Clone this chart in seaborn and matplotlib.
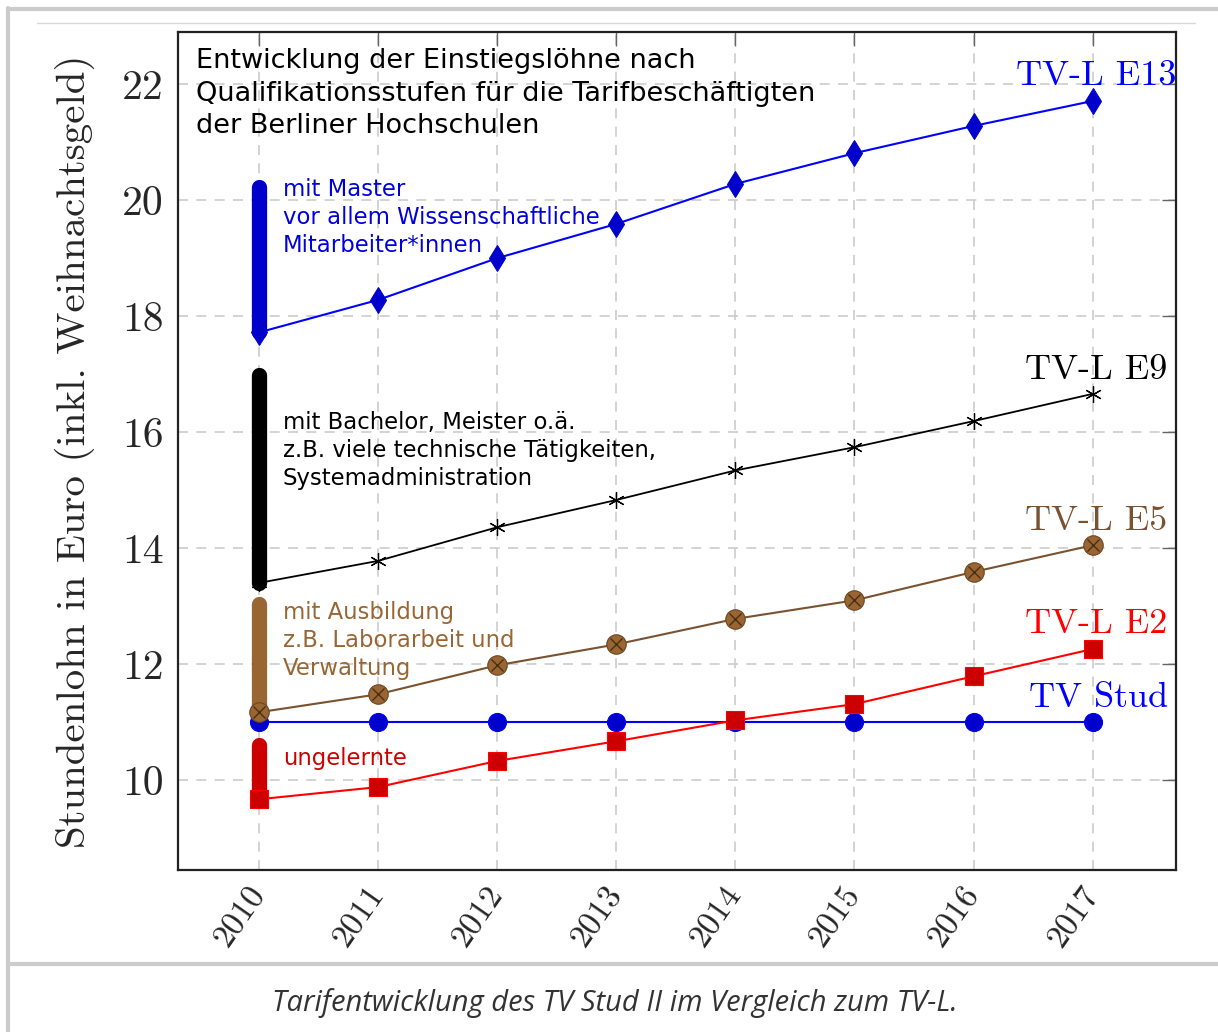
import numpy as np
import pandas as pd
import matplotlib.pyplot as plt
import matplotlib.transforms as mtransforms
import seaborn as sns
from matplotlib.lines import Line2D

# ------------------------------------------------------------
# Daten
# ------------------------------------------------------------
jahre = [2010, 2011, 2012, 2013, 2014, 2015, 2016, 2017]

tvl_e13 = [17.72, 18.28, 19.00, 19.59, 20.28, 20.81, 21.28, 21.71]
tvl_e9 = [13.40, 13.78, 14.36, 14.83, 15.34, 15.74, 16.19, 16.66]
tvl_e5 = [11.17, 11.48, 11.98, 12.34, 12.78, 13.10, 13.59, 14.05]
tvl_e2 = [9.67, 9.88, 10.33, 10.67, 11.03, 11.31, 11.79, 12.26]
tv_stud = [11.00, 11.00, 11.00, 11.00, 11.00, 11.00, 11.00, 11.00]

# Qualifikationsbalken bei 2010 (von, bis)
balken_von = [17.72, 13.40, 11.20, 9.65]
balken_bis = [20.22, 16.98, 13.03, 10.60]
balken_farben = ["#0000cc", "#000000", "#996633", "#cc0000"]

gruppen_texte = [
    "mit Master\nvor allem Wissenschaftliche\nMitarbeiter*innen",
    "mit Bachelor, Meister o.ä.\nz.B. viele technische Tätigkeiten,\nSystemadministration",
    "mit Ausbildung\nz.B. Laborarbeit und\nVerwaltung",
    "ungelernte",
]
gruppen_y = [19.70, 15.69, 12.40, 10.38]
gruppen_farben = ["#0000dd", "#000000", "#996633", "#cc0000"]

reihen_namen = ["TV-L E13", "TV-L E9", "TV-L E5", "TV-L E2", "TV Stud"]
reihen_label_x = [2017.70, 2017.63, 2017.63, 2017.63, 2017.63]
reihen_label_y = [22.13, 17.07, 14.46, 12.69, 11.41]
reihen_label_farben = ["#0000ff", "#000000", "#7a5230", "#ff0000", "#0000ff"]

y_ticks = [10, 12, 14, 16, 18, 20, 22]

# ------------------------------------------------------------
# Figur
# ------------------------------------------------------------
sns.set_theme(style="white")
plt.rcParams["font.family"] = ["DejaVu Sans"]

fig = plt.figure(figsize=(12.18, 10.32), dpi=100)
ax = fig.add_axes([178 / 1218, 1 - 870 / 1032, 998 / 1218, 838 / 1032])

# Grid
for j in jahre:
    ax.axvline(j, color="#cccccc", lw=1.2, ls=(0, (6, 5)), zorder=0)
for t in y_ticks:
    ax.axhline(t, color="#cccccc", lw=1.2, ls=(0, (6, 5)), zorder=0)

# Balken bei 2010
for v, b, c in zip(balken_von, balken_bis, balken_farben):
    ax.plot([2010, 2010], [v, b], color=c, lw=11, solid_capstyle="round", zorder=2)

# Linien
df = pd.DataFrame({"Jahr": jahre, "E13": tvl_e13, "E9": tvl_e9, "E5": tvl_e5,
                   "E2": tvl_e2, "Stud": tv_stud})

sns.lineplot(data=df, x="Jahr", y="Stud", ax=ax, color="#0000ff", lw=1.5,
             marker="o", markersize=13, markerfacecolor="#0000cc",
             markeredgecolor="#0000ff", markeredgewidth=0.8, zorder=3)
sns.lineplot(data=df, x="Jahr", y="E13", ax=ax, color="#0000ff", lw=1.5,
             marker="d", markersize=13, markerfacecolor="#0000cc",
             markeredgecolor="#0000cc", zorder=3)
sns.lineplot(data=df, x="Jahr", y="E9", ax=ax, color="#000000", lw=1.3,
             marker=(6, 2, 0), markersize=12, markeredgecolor="#000000",
             markeredgewidth=0.9, zorder=3)
sns.lineplot(data=df, x="Jahr", y="E5", ax=ax, color="#7a5230", lw=1.5,
             marker="o", markersize=14, markerfacecolor="#996633",
             markeredgecolor="#6b4520", markeredgewidth=0.8, zorder=3)
ax.plot(jahre, tvl_e5, ls="none", marker="x", markersize=8,
        markeredgecolor="#4a2f12", markeredgewidth=1.0, zorder=4)
sns.lineplot(data=df, x="Jahr", y="E2", ax=ax, color="#ff0000", lw=1.5,
             marker="s", markersize=13, markerfacecolor="#cc0000",
             markeredgecolor="#ff0000", markeredgewidth=0.8, zorder=3)

# Texte
ax.text(0.018, 0.981,
        "Entwicklung der Einstiegslöhne nach\n"
        "Qualifikationsstufen für die Tarifbeschäftigten\n"
        "der Berliner Hochschulen",
        transform=ax.transAxes, ha="left", va="top", fontsize=19.5,
        linespacing=1.33, color="black", family="DejaVu Sans")

for txt, y, c in zip(gruppen_texte, gruppen_y, gruppen_farben):
    ax.text(2010.20, y, txt, ha="left", va="center", fontsize=16.4,
            linespacing=1.28, color=c, family="DejaVu Sans")

for name, x, y, c in zip(reihen_namen, reihen_label_x, reihen_label_y,
                         reihen_label_farben):
    ax.text(x, y, name, ha="right", va="center", fontsize=26,
            color=c, family="cmr10")

# Achsen
ax.set_xlim(2009.32, 2017.70)
ax.set_ylim(8.45, 22.9)
ax.set_xticks(jahre)
ax.set_xticklabels([str(j) for j in jahre], rotation=55, ha="right",
                   va="center", rotation_mode="anchor", family="cmr10",
                   fontsize=24)
verschiebung = mtransforms.ScaledTranslation(-8 / 100, 2 / 100, fig.dpi_scale_trans)
for lab in ax.get_xticklabels():
    lab.set_transform(lab.get_transform() + verschiebung)
ax.set_yticks(y_ticks)
ax.set_yticklabels([str(t) for t in y_ticks], family="cmr10", fontsize=30)
ax.tick_params(axis="both", direction="in", length=10, width=1,
               color="#666666", top=True, right=True, pad=10)
ax.tick_params(axis="x", pad=14)
ax.set_xlabel("")
ax.set_ylabel("Stundenlohn in Euro (inkl. Weihnachtsgeld)", family="cmr10",
              fontsize=29.5, labelpad=20)
for s in ax.spines.values():
    s.set_color("#222222")
    s.set_linewidth(1.6)

# Rahmen der Seite
fig.add_artist(Line2D([8 / 1218, 8 / 1218], [0, 1 - 8 / 1032],
                      transform=fig.transFigure, color="#cccccc", lw=3))
fig.add_artist(Line2D([8 / 1218, 1], [1 - 9 / 1032, 1 - 9 / 1032],
                      transform=fig.transFigure, color="#cccccc", lw=3))
fig.add_artist(Line2D([8 / 1218, 1], [1 - 964 / 1032, 1 - 964 / 1032],
                      transform=fig.transFigure, color="#cccccc", lw=3))
fig.add_artist(Line2D([37 / 1218, 1195 / 1218], [1 - 23 / 1032, 1 - 23 / 1032],
                      transform=fig.transFigure, color="#d8d8d8", lw=1))

fig.text(615 / 1218, 1 - 1003 / 1032,
         "Tarifentwicklung des TV Stud II im Vergleich zum TV-L.",
         ha="center", va="center", fontsize=21, style="italic",
         color="#333333", family="Open Sans")

fig.savefig("out.png", dpi=100)
